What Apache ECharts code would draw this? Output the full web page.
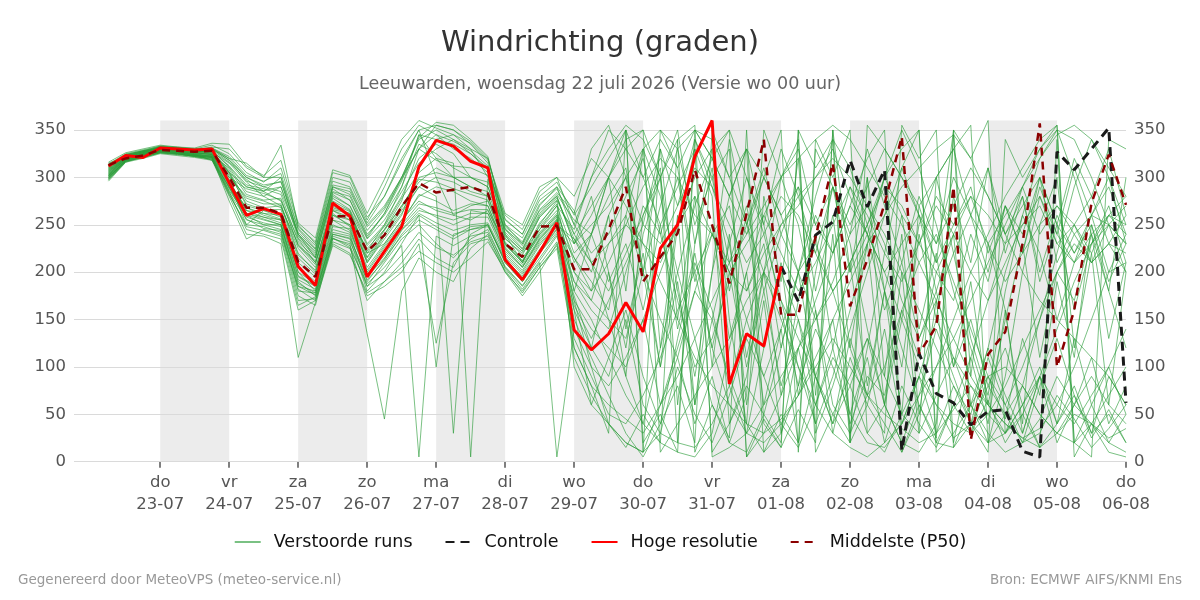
<!DOCTYPE html>
<html>
<head>
<meta charset="utf-8">
<script src="https://cdn.jsdelivr.net/npm/echarts@6/dist/echarts.min.js"></script>
<style>
  html, body { margin: 0; padding: 0; background: #fff; }
  #chart { width: 1200px; height: 600px; }
</style>
</head>
<body>
<div id="chart"></div>
<script>
// hours since 22-07 00:00, one value every 6 hours from 22-07 06:00 to 06-08 00:00
const hours = Array.from({ length: 60 }, (_, i) => 6 + 6 * i);

const dayTicks = [24, 48, 72, 96, 120, 144, 168, 192, 216, 240, 264, 288, 312, 336, 360];
const dayNames = ["do", "vr", "za", "zo", "ma", "di", "wo", "do", "vr", "za", "zo", "ma", "di", "wo", "do"];
const dayDates = ["23-07", "24-07", "25-07", "26-07", "27-07", "28-07", "29-07", "30-07",
  "31-07", "01-08", "02-08", "03-08", "04-08", "05-08", "06-08"];
const yTicks = [0, 50, 100, 150, 200, 250, 300, 350];

// shaded days (start, end in hours)
const bands = [[24, 48], [72, 96], [120, 144], [168, 192], [216, 240], [264, 288], [312, 336]];

// Hoge resolutie, 22-07 06:00 .. 01-08 00:00
const hres = [312, 323, 321, 331, 330, 329, 330, 294, 260, 267,
  261, 206, 186, 273, 259, 195, 222, 248, 311, 339,
  333, 317, 310, 213, 192, 221, 252, 139, 118, 135,
  168, 137, 225, 250, 322, 360, 82, 135, 122, 206];

// Controle, 01-08 00:00 .. 06-08 00:00
const controlStart = 39;
const control = [206, 169, 239, 253, 318, 269, 308, 12, 114, 72,
  62, 39, 53, 55, 11, 5, 327, 308, 330, 352, 62];

// Middelste (P50)
const p50 = [313, 320, 323, 329, 328, 327, 328, 300, 268, 268,
  262, 211, 195, 259, 259, 222, 239, 269, 294, 284,
  287, 290, 283, 230, 216, 248, 249, 203, 203, 245,
  290, 190, 216, 241, 308, 250, 188, 262, 340, 155,
  155, 237, 315, 164, 213, 272, 343, 114, 143, 290,
  23, 113, 137, 230, 357, 100, 160, 273, 324, 271];

// Verstoorde runs
const members = [
  [300,318,324,329,327,325,322,310,285,280, 270,225,205,255,250,215,240,265,290,300, 295,285,280,230,215,240,260,200,180,210, 250,290,320,300,260,240,200,180,220,250, 270,300,330,280,240,200,150,100,60,40, 30,50,80,120,160,200,240,260,250,230],
  [315,322,327,331,330,328,330,320,300,290, 285,240,215,280,270,230,250,280,320,335, 325,300,290,245,225,260,280,230,250,270, 300,330,350,310,200,120,60,30,20,40, 70,110,150,190,230,260,290,310,330,345, 320,280,240,200,170,150,130,110,90,60],
  [298,316,322,328,326,324,318,290,260,255, 250,190,175,240,235,180,200,230,260,100, 240,245,250,210,190,215,240,170,140,120, 100,150,60,110,40,90,20,70,350,300, 330,250,290,200,240,160,210,130,180,100, 150,80,120,60,100,40,80,30,50,20],
  [308,321,326,332,331,327,328,305,270,265, 258,200,180,265,255,210,235,260,310,340, 345,330,320,250,230,270,290,240,210,180, 220,260,300,340,355,5,15,30,60,90, 120,150,180,210,250,300,330,350,10,30, 60,90,100,80,50,30,20,40,70,100],
  [312,324,328,330,329,329,332,330,310,300, 300,245,225,290,285,250,270,300,340,350, 340,325,310,255,240,280,295,260,290,320, 350,10,30,20,15,40,80,150,200,250, 280,300,320,300,270,240,200,160,120,80, 40,20,30,50,90,140,190,230,260,280],
  [302,319,323,327,325,322,320,285,245,240, 235,160,170,230,220,175,185,200,230,125, 210,230,235,200,180,205,225,120,80,60, 45,30,60,90,130,170,210,240,270,300, 320,340,355,340,310,280,250,210,170,130, 90,60,40,25,35,60,100,150,200,240],
  [310,323,327,332,330,327,326,295,250,265, 262,210,195,275,265,220,245,275,330,355, 350,335,315,240,210,250,275,180,150,110, 70,40,20,10,5,30,120,200,260,300, 340,30,80,140,200,260,310,350,20,60, 110,170,230,290,330,350,340,300,250,200],
  [306,320,325,329,328,326,324,300,280,275, 268,230,210,260,255,225,245,270,295,310, 300,290,285,235,220,245,265,210,240,190, 230,160,250,140,220,120,200,100,180,80, 150,60,120,40,90,70,160,110,200,170, 240,190,270,220,300,250,320,280,330,260],
  [299,317,321,326,324,323,321,275,235,245, 240,185,180,245,240,185,210,235,250,230, 215,235,245,205,185,210,5,140,100,80, 110,150,200,250,300,330,350,5,30,70, 120,170,220,270,320,350,10,50,100,150, 200,240,280,310,340,355,20,60,100,140],
  [314,325,329,333,331,330,334,325,305,295, 310,250,230,300,295,255,290,330,355,345, 330,320,305,260,245,285,300,250,220,240, 280,320,240,300,190,250,130,200,60,140, 20,90,40,130,70,180,100,240,150,280, 210,310,240,280,200,260,220,250,190,230],
  [304,319,324,330,328,325,325,305,290,285, 275,235,210,270,260,220,230,255,280,290, 285,275,270,225,205,235,255,190,170,150, 130,200,270,330,350,340,300,250,200,150, 100,60,30,15,5,20,40,70,100,130, 170,210,250,290,320,345,355,340,310,280],
  [301,318,322,327,325,323,322,290,255,250, 245,175,165,235,230,135,45,180,215,200, 190,225,240,200,175,200,230,130,90,50, 40,70,110,160,200,240,270,180,230,120, 200,90,150,50,110,20,80,40,15,60, 30,90,45,130,70,190,110,250,180,300],
  [309,322,326,331,330,328,327,315,295,280, 290,240,220,285,280,240,260,290,335,325, 310,300,295,245,230,265,280,230,260,300, 340,350,300,350,230,310,180,260,120,210, 70,160,30,110,60,140,40,90,30,80, 50,120,70,30,90,40,130,60,20,50],
  [296,316,320,325,323,321,318,280,240,238, 230,110,168,228,218,178,190,210,235,215, 205,240,250,210,190,220,245,110,70,40, 20,10,350,330,250,300,210,270,180,240, 200,260,220,290,240,300,260,230,280,250, 290,220,270,240,300,210,250,280,230,260],
  [311,323,328,333,332,330,331,320,315,300, 334,248,232,305,300,258,280,320,350,300, 260,255,265,230,210,245,270,220,240,280, 310,200,330,150,280,100,240,60,170,30, 120,40,350,200,300,90,240,50,170,20, 110,40,160,30,90,20,60,110,40,80],
  [303,320,324,328,327,324,323,298,262,258, 255,205,190,260,250,205,230,255,275,265, 260,270,275,228,212,238,258,160,120,200, 90,260,310,60,230,330,150,40,280,190, 320,70,240,20,300,180,50,270,210,350, 90,230,160,40,250,300,120,220,60,200],
  [307,321,326,330,329,327,328,312,292,288, 282,232,215,282,270,235,255,285,315,330, 340,330,300,240,222,258,278,235,200,260, 300,200,100,250,330,280,40,90,200,300, 250,160,60,30,120,220,310,260,180,240, 60,20,90,200,280,230,250,210,230,220],
  [297,317,321,326,324,322,319,282,250,248, 242,170,172,232,225,188,205,228,5,238, 228,238,242,206,186,212,238,175,120,90, 150,60,30,100,50,20,70,130,90,40, 15,60,110,80,30,10,50,90,60,25, 40,80,50,20,30,70,45,15,35,60],
  [313,324,328,332,331,329,330,318,300,292, 295,242,224,292,288,248,268,300,342,358, 355,340,322,250,236,272,288,250,300,350, 330,300,340,310,350,320,280,330,300,260, 290,250,220,270,240,200,230,260,210,250, 280,230,260,290,240,270,250,220,260,240],
  [300,318,323,327,326,323,321,288,258,252, 248,180,178,238,232,192,212,240,260,248, 238,248,250,212,196,222,246,200,170,230, 260,200,150,110,180,240,210,150,90,140, 200,230,180,120,70,100,160,210,240,190, 140,90,60,100,150,200,230,210,250,230],
  [305,320,325,329,328,326,325,302,278,272, 272,220,200,265,258,210,238,262,290,280, 30,265,262,222,205,232,252,150,110,70, 30,5,40,80,20,350,300,330,10,50, 20,340,300,350,30,60,20,10,40,350, 320,360,30,60,15,340,5,40,20,10],
  [316,326,330,334,332,331,336,335,312,302, 318,252,236,308,302,262,298,340,360,352, 345,336,318,262,250,290,300,280,320,300, 270,230,190,150,110,80,60,40,30,45, 70,100,130,100,70,50,35,20,30,55, 80,60,40,25,15,30,50,40,25,35],
  [302,319,323,328,326,324,322,292,268,260, 255,195,185,250,242,198,222,248,268,258, 250,258,258,218,200,228,250,230,280,200, 120,240,300,180,90,200,280,330,250,160, 80,200,290,230,140,60,150,250,300,220, 130,70,180,260,220,150,210,260,200,210],
  [308,322,326,331,330,327,327,308,282,276, 278,228,208,278,266,228,248,278,305,320, 315,5,298,236,218,252,272,100,60,40, 20,10,60,120,180,150,90,40,10,30, 80,140,100,50,20,15,40,90,150,110, 60,30,10,20,45,90,60,40,10,5],
  [310,323,327,331,330,328,329,316,298,285, 300,238,218,288,276,238,262,296,345,340, 335,325,308,246,228,262,282,255,240,300, 180,330,120,260,60,200,340,250,310,240, 290,180,260,120,230,60,200,30,300,330, 260,310,220,280,190,250,160,230,270,210],
  [299,317,322,326,325,322,320,282,248,244, 238,165,174,236,228,185,198,218,242,226, 218,232,238,204,182,208,232,165,130,170, 210,250,230,270,310,290,250,210,240,280, 260,220,180,210,250,290,270,230,200,240, 280,260,230,250,270,230,210,240,260,250],
  [306,321,325,330,328,326,326,304,272,266, 266,215,198,268,262,212,240,268,300,305, 300,290,280,232,212,242,262,215,190,160, 260,330,280,200,130,60,20,10,50,120, 200,280,340,310,250,180,120,60,20,15, 60,120,200,260,320,350,300,240,180,120],
  [304,320,324,329,327,325,324,296,265,262, 260,200,188,262,248,202,228,252,282,275, 265,272,270,226,208,236,256,180,240,300, 350,20,50,10,340,300,330,5,45,15, 350,310,340,20,60,30,355,320,350,15, 40,10,340,300,330,355,20,5,340,330],
  [300,318,322,327,325,323,321,286,260,250, 250,185,176,240,236,195,215,238,255,245, 235,245,248,214,194,220,242,190,160,140, 200,270,240,170,100,130,190,250,300,260, 200,150,190,240,270,230,170,130,170,220, 260,230,190,220,250,270,240,210,230,200],
  [311,323,327,332,330,329,330,318,296,290, 296,240,222,290,282,244,266,298,330,318, 312,310,302,242,224,258,276,240,270,300, 330,350,10,40,70,100,130,170,200,170, 130,90,50,20,355,330,300,270,300,330, 355,20,50,80,50,30,60,90,60,40],
  [302,319,323,328,326,324,322,295,265,258, 252,192,182,248,246,196,218,245,265,260, 255,262,262,220,202,230,250,235,210,230, 250,230,210,250,280,240,200,230,260,220, 180,210,250,290,260,220,190,230,270,240, 200,170,210,250,280,240,210,230,250,270],
  [307,321,326,330,329,327,327,306,275,268, 270,218,202,272,264,216,244,270,298,295, 288,282,276,230,210,240,260,120,80,30, 350,300,250,290,330,10,40,80,50,20, 350,10,50,90,130,90,50,30,70,110, 80,50,30,60,90,60,40,70,100,50],
  [305,321,325,330,328,326,324,300,288,283, 276,228,212,266,262,222,250,290,345,320, 300,300,290,238,222,248,270,245,300,330, 355,340,300,20,350,320,280,240,300,350, 10,330,290,250,290,330,300,260,230,270, 310,280,240,270,300,250,220,260,290,240],
  [298,317,321,326,325,322,319,284,256,246, 244,182,170,236,226,170,190,205,222,210, 200,215,232,202,178,205,228,160,60,110, 160,90,40,130,210,160,80,30,120,200, 150,90,40,80,130,60,20,70,140,90, 40,110,60,20,80,130,70,30,90,60],
  [309,322,327,331,330,328,328,311,290,286, 290,236,216,284,276,236,262,300,330,345, 338,328,312,248,232,266,284,262,330,355, 300,250,330,270,340,290,230,300,250,330, 280,220,290,240,330,270,210,280,230,300, 260,200,270,220,290,240,310,260,300,250],
  [303,320,324,329,327,324,323,294,268,262, 256,196,186,255,244,200,226,250,272,268, 262,266,266,224,206,234,254,170,100,40, 15,50,20,340,10,60,25,350,40,15, 55,20,350,30,70,40,10,60,25,345, 30,65,20,50,15,40,70,25,55,20],
  [301,318,323,328,326,323,321,289,262,256, 250,188,178,242,238,190,214,244,262,252, 244,250,252,216,198,224,248,215,180,260, 140,220,100,190,60,150,230,110,200,70, 170,240,120,210,80,180,260,140,220,100, 190,60,150,230,110,200,170,240,130,210],
  [312,324,328,332,331,329,331,322,302,296, 304,246,228,296,290,252,280,316,350,355, 350,338,320,256,240,276,290,265,210,150, 90,40,120,200,270,320,350,300,240,170, 100,40,90,160,230,300,350,310,250,180, 120,60,30,80,150,220,290,340,300,230]
];

const FONT = "'DejaVu Sans', sans-serif";

function toPoints(values, offset) {
  return values.map((v, i) => [hours[i + offset], v]);
}

const chart = echarts.init(document.getElementById("chart"), null, { renderer: "canvas" });

const memberSeries = members.map((m) => ({
  type: "line",
  name: "Verstoorde runs",
  data: toPoints(m, 0),
  symbol: "none",
  silent: true,
  z: 2,
  lineStyle: { color: "rgba(40,155,55,0.62)", width: 1 },
  itemStyle: { color: "rgba(40,155,55,0.62)" },
}));

const yAxisBase = {
  type: "value",
  min: 0,
  max: 360,
  z: 1,
  axisLine: { show: false },
  axisTick: { show: false, customValues: yTicks },
  axisLabel: {
    customValues: yTicks,
    color: "#555",
    fontFamily: FONT,
    fontSize: 16.5,
    margin: 8,
  },
};

chart.setOption({
  animation: false,
  backgroundColor: "#fff",
  title: [
    {
      text: "Windrichting (graden)",
      left: "center",
      top: 24,
      textStyle: { color: "#333", fontFamily: FONT, fontSize: 29, fontWeight: "normal" },
    },
    {
      text: "Leeuwarden, woensdag 22 juli 2026 (Versie wo 00 uur)",
      left: "center",
      top: 70,
      textStyle: { color: "#666", fontFamily: FONT, fontSize: 17.5, fontWeight: "normal" },
    },
  ],
  graphic: [
    {
      type: "text",
      left: 18,
      top: 573,
      style: { text: "Gegenereerd door MeteoVPS (meteo-service.nl)", fill: "#999", font: "13.5px " + FONT },
    },
    {
      type: "text",
      right: 18,
      top: 573,
      style: { text: "Bron: ECMWF AIFS/KNMI Ens", fill: "#999", font: "13.5px " + FONT },
    },
  ],
  legend: {
    data: ["Verstoorde runs", "Controle", "Hoge resolutie", "Middelste (P50)"],
    left: "center",
    top: 528,
    itemWidth: 26,
    itemHeight: 14,
    itemGap: 32,
    selectedMode: false,
    itemStyle: { opacity: 0 },
    textStyle: { color: "#111", fontFamily: FONT, fontSize: 17.5, padding: [0, 0, 0, 8] },
  },
  grid: { left: 74, right: 74, top: 120.5, bottom: 138.3, containLabel: false },
  xAxis: {
    type: "value",
    min: -6,
    max: 360,
    axisLine: { show: false },
    splitLine: { show: false },
    axisTick: {
      show: true,
      customValues: dayTicks,
      length: 6,
      lineStyle: { color: "#555", width: 1.5 },
    },
    axisLabel: {
      customValues: dayTicks,
      color: "#555",
      fontFamily: FONT,
      fontSize: 16.5,
      lineHeight: 22,
      margin: 10,
      formatter: (value) => {
        const k = dayTicks.indexOf(Math.round(value));
        return k < 0 ? "" : dayNames[k] + "\n" + dayDates[k];
      },
    },
  },
  yAxis: [
    Object.assign({}, yAxisBase, {
      position: "left",
      splitLine: { show: true, lineStyle: { color: "#dadada", width: 1 } },
    }),
    Object.assign({}, yAxisBase, {
      position: "right",
      splitLine: { show: false },
    }),
  ],
  series: [
    {
      type: "line",
      name: "bands",
      data: [],
      silent: true,
      z: 0,
      markArea: {
        silent: true,
        z: 0,
        itemStyle: { color: "#ececec" },
        data: bands.map((b) => [{ xAxis: b[0] }, { xAxis: b[1] }]),
      },
    },
    ...memberSeries,
    {
      type: "line",
      name: "Controle",
      data: toPoints(control, controlStart),
      symbol: "none",
      z: 4,
      lineStyle: { color: "#1a1a1a", width: 3, type: [9, 6] },
      itemStyle: { color: "#1a1a1a" },
    },
    {
      type: "line",
      name: "Hoge resolutie",
      data: toPoints(hres, 0),
      symbol: "none",
      z: 5,
      lineStyle: { color: "#ff0000", width: 3 },
      itemStyle: { color: "#ff0000" },
    },
    {
      type: "line",
      name: "Middelste (P50)",
      data: toPoints(p50, 0),
      symbol: "none",
      z: 6,
      lineStyle: { color: "#8b0000", width: 2.5, type: [8, 6] },
      itemStyle: { color: "#8b0000" },
    },
  ],
});
</script>
</body>
</html>
